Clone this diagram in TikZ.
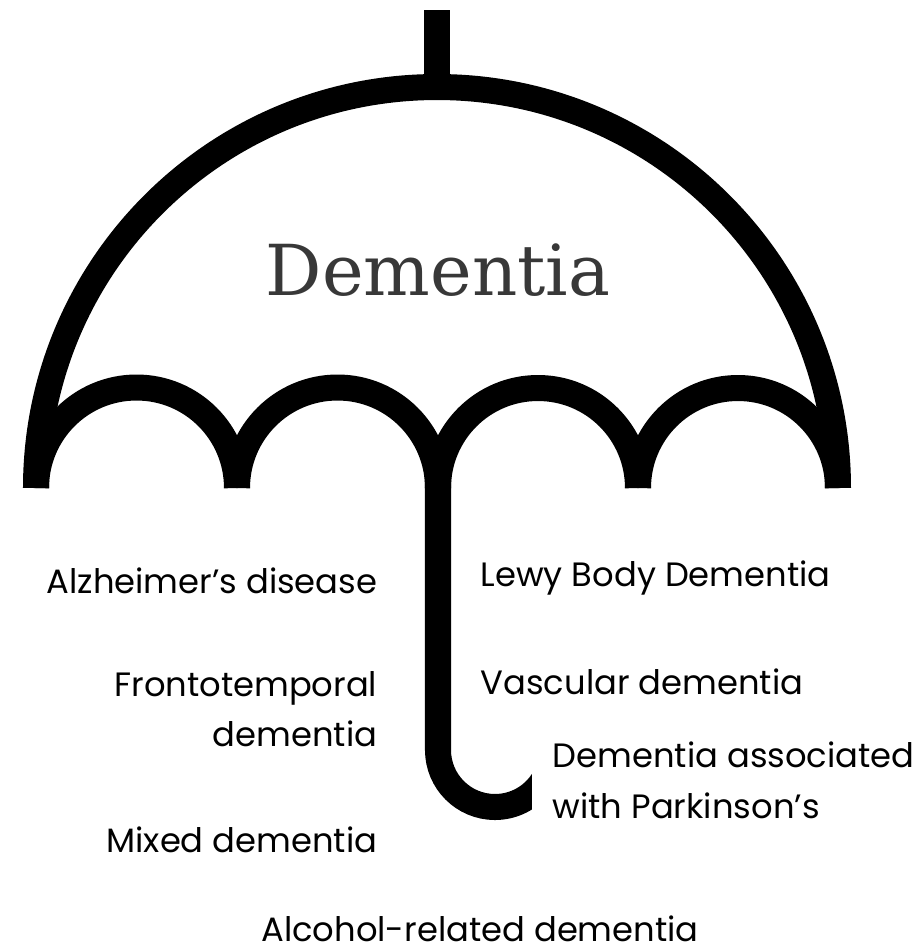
\documentclass[tikz,border=0pt]{standalone}
\usepackage{fontspec}
\setmainfont{Poppins}
\newfontfamily\titlefont{DejaVu Serif}
\tikzset{
  canopy/.style={line width=0.26cm, black},
  labeltext/.style={font=\fontsize{9.6}{14.4}\selectfont, text=black, inner sep=0pt},
  lefttext/.style={labeltext, anchor=east, align=right},
  righttext/.style={labeltext, anchor=west, align=left}
}
\begin{document}
\begin{tikzpicture}[x=0.01cm, y=-0.01cm]
\useasboundingbox (0,0) rectangle (923,947);
% umbrella
\draw[canopy] (437,10)--(437,85);
\draw[canopy] (36,488) arc[start angle=180, end angle=360, radius=401];
\draw[canopy] (36,488) arc[start angle=180, end angle=360, radius=100.5];
\draw[canopy] (237,488) arc[start angle=180, end angle=360, radius=100.5];
\draw[canopy] (438,488) arc[start angle=180, end angle=360, radius=100];
\draw[canopy] (638,488) arc[start angle=180, end angle=360, radius=100];
% handle with hook
\begin{scope}
\clip (380,400) rectangle (532,840);
\draw[canopy] (438,440)--(438,750) arc[start angle=180, end angle=30, radius=57];
\end{scope}
% labels
\node[font=\titlefont\fontsize{20}{22}\selectfont, text=black!78] (title) at (438,270) {Dementia};
\node[lefttext] (alz) at (378,581) {Alzheimer's disease};
\node[lefttext] (fronto) at (378,709) {Frontotemporal\\dementia};
\node[lefttext] (mixed) at (378,840) {Mixed dementia};
\node[righttext] (lewy) at (480,578) {Lewy Body Dementia};
\node[righttext] (vasc) at (480,682) {Vascular dementia};
\node[righttext] (park) at (552,780) {Dementia associated\\with Parkinson's};
\node[labeltext] (alcohol) at (480,929) {Alcohol-related dementia};
\end{tikzpicture}
\end{document}
